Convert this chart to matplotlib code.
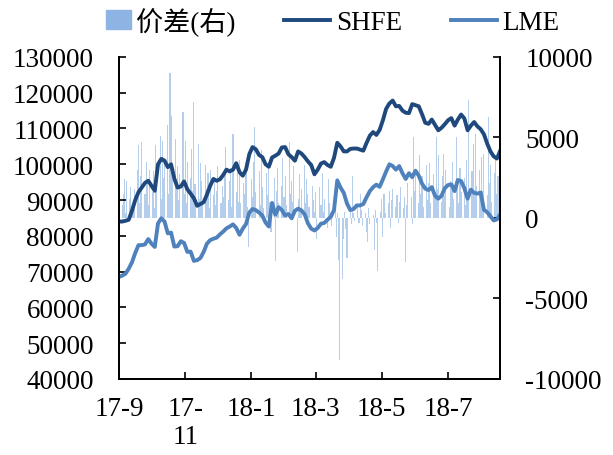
import numpy as np
import pandas as pd
import matplotlib
matplotlib.use('Agg')
import matplotlib.pyplot as plt
import matplotlib.patches as mpatches
from matplotlib.legend_handler import HandlerPatch

plt.rcParams['font.family'] = ['Liberation Serif', 'Noto Sans CJK SC']

# prices, sampled every 3 days
line_dates = pd.date_range('2017-09-01', '2018-08-18', freq='3D')
shfe = [84000, 84000, 84200, 84500, 87000, 90000, 92200, 93500, 94800, 95400,
        94000, 92600, 100000, 101500, 101000, 99200, 100000, 96000, 93500, 93800,
        95200, 93000, 91800, 90500, 88400, 88900, 89400, 91500, 94000, 95900,
        95400, 95800, 97000, 98500, 98000, 98500, 100300, 97800, 96800, 98500,
        102800, 104800, 104200, 102600, 102000, 100000, 99300, 101900, 102400, 103000,
        104700, 104800, 102800, 102000, 101000, 103600, 103000, 102000, 100800, 99800,
        97200, 98500, 100200, 100600, 99800, 99300, 101800, 106000, 105000, 103600,
        103600, 104300, 104400, 104400, 104100, 103800, 106000, 108000, 109000, 108200,
        109600, 112300, 115500, 117000, 117800, 116200, 116300, 115000, 114400, 114300,
        116800, 116500, 116200, 114000, 111600, 111300, 112500, 111000, 109500, 110200,
        111200, 112300, 112900, 110800, 112500, 113900, 112800, 109500, 110800, 111800,
        110600, 109800, 108400, 105800, 103600, 102200, 101600, 103800]
lme = [68500, 68900, 69400, 70800, 72600, 75200, 77400, 77400, 77600, 79100,
       77800, 76900, 83500, 84900, 84000, 80700, 80900, 77000, 77100, 78500,
       78000, 75500, 75600, 73000, 73200, 73800, 75500, 77800, 78800, 79200,
       79500, 80400, 81200, 82100, 82600, 83200, 82200, 80300, 82000, 83300,
       86500, 87500, 87200, 86500, 85700, 83700, 82600, 89200, 85900, 88000,
       87200, 85700, 86100, 84900, 87000, 87600, 87100, 86000, 83500, 82000,
       81500, 82200, 83400, 83600, 84500, 85300, 87200, 95500, 93500, 92000,
       89000, 87200, 87500, 88500, 88500, 88900, 90800, 92500, 93600, 94300,
       93700, 95800, 98000, 100000, 99500, 98500, 99500, 97500, 95900, 97500,
       96400, 98200, 96800, 94600, 93200, 92800, 93600, 91200, 90400, 91200,
       93300, 94200, 94400, 92500, 95600, 95300, 93300, 90400, 92900, 92000,
       91800, 92100, 87300, 86600, 85500, 84300, 84600, 86000]

# daily spread (right axis)
bar_dates = pd.bdate_range('2017-09-01', '2018-08-17')
spread = [2600, 800, 1500, 2400, 300, 2300, 1200, 1900, 600, 1000,
          1800, 3000, 4500, 900, 2600, 4700, 1500, 3500, 2200, 800,
          3000, 1600, 2900, 600, 4500, 2100, 5100, 1200, 4800, 2500,
          3500, 5800, 1500, 9000, 6300, 2400, 4900, 1800, 3200, 1100,
          2700, 6600, 1500, 4800, 900, 3500, 2500, 4300, 1700, 7200,
          2100, 4600, 1200, 3400, 2300, 900, 3300, 1800, 2800, 600,
          3000, 1400, 2400, 800, 1700, 3200, 900, 2000, 1300, 2600,
          4400, 1100, 2300, 3100, 700, 5200, 1600, 2800, 1000, 3600,
          900, 2200, 1500, 3000, 700, -1800, 2400, 1300, 3500, 5650,
          1600, 2900, 800, 4200, 1900, 600, 2800, 1400, 3300, 1000,
          -900, 2500, -2700, 1700, 3100, 900, 2000, 3700, 1300, 2600,
          800, 4700, 1500, 2300, 1000, 3200, -2100, 1200, 2700, 600,
          1800, 3300, 900, 2400, 1500, 700, 2000, 1100, 400, 1600,
          -1300, 1900, 800, 2800, 400, 1200, -600, 2400, 900, 300,
          -500, 1000, -1200, 300, -2600, -8800, -3800, -1300, 400, -700,
          -2500, 600, -400, 2600, 300, -200, 800, -300, 1500, 500,
          -500, 300, -900, -1500, 600, -400, 200, -2000, 500, -300,
          -3300, 400, 1200, -1200, 1500, 300, 900, 1700, -600, 1100,
          1800, 700, 1400, -300, 1000, 1900, 600, 1300, -2750, 800,
          2200, 1300, -400, 5000, 1700, 2900, 900, 3900, 1500, 2600,
          700, 3300, 1100, 2200, 3400, 900, 2700, 1600, 5000, 1800,
          3900, 1000, 2600, 4000, 1400, 3000, 700, 2300, 1800, 3500,
          1200, 5000, 2100, 900, 3100, 1600, 2500, 800, 3600, 1300,
          7300, 2900, 4600, 1500, 5200, 2000, 3000, 1100, 3800, 1700,
          4000, 1400, 6250, 2200, 3300, 1000, 2800, 3700, 1500, 2600, 900]

tick_dates = pd.to_datetime(['2017-09-01', '2017-11-01', '2018-01-01',
                             '2018-03-01', '2018-05-01', '2018-07-01'])
tick_labels = ['17-9', '17-\n11', '18-1', '18-3', '18-5', '18-7']

c_bar = '#8DB4E2'
c_shfe = '#1F497D'
c_lme = '#4F81BD'
fs = 19.5
lw = 2.8

fig = plt.figure(figsize=(6.13, 4.56), dpi=100)
ax = fig.add_axes([0.194, 0.1667, 0.622, 0.7063])
ax2 = ax.twinx()
ax.set_zorder(ax2.get_zorder() + 1)
ax.patch.set_visible(False)

ax2.bar(bar_dates, spread, width=1.0, color=c_bar, alpha=0.65, linewidth=0)
ax.plot(line_dates, shfe, color=c_shfe, lw=lw, solid_joinstyle='round')
ax.plot(line_dates, lme, color=c_lme, lw=lw, solid_joinstyle='round')

ax.set_xlim(line_dates[0], line_dates[-1])
ax.set_ylim(40000, 130000)
ax.set_yticks(range(40000, 130001, 10000))
ax.set_yticklabels([str(v) for v in range(40000, 130001, 10000)])
ax2.set_ylim(-10000, 10000)
ax2.set_yticks(range(-10000, 10001, 5000))
ax2.set_yticklabels([str(v) for v in range(-10000, 10001, 5000)])
ax.set_xticks(tick_dates)
ax.set_xticklabels(tick_labels, linespacing=1.15)

for a in (ax, ax2):
    a.spines['top'].set_visible(False)
    for s in ('left', 'right', 'bottom'):
        a.spines[s].set_linewidth(1.3)
    a.tick_params(direction='in', length=5, width=1.2, labelsize=fs, pad=18)
ax.tick_params(axis='x', pad=12)


def narrow_patch(legend, orig_handle, xdescent, ydescent, width, height, fontsize):
    return mpatches.Rectangle((-xdescent + width * 0.46, -ydescent), width * 0.54, height)


handles = [mpatches.Patch(color=c_bar),
           plt.Line2D([], [], color=c_shfe, lw=lw),
           plt.Line2D([], [], color=c_lme, lw=lw)]
fig.legend(handles, ['价差(右)', 'SHFE', 'LME'], loc='center', ncol=3,
           bbox_to_anchor=(322 / 613, 0.952), frameon=False, fontsize=fs,
           handlelength=1.7, handletextpad=0.2, columnspacing=1.8,
           handler_map={mpatches.Patch: HandlerPatch(patch_func=narrow_patch)})

fig.savefig('out.png', dpi=100)
